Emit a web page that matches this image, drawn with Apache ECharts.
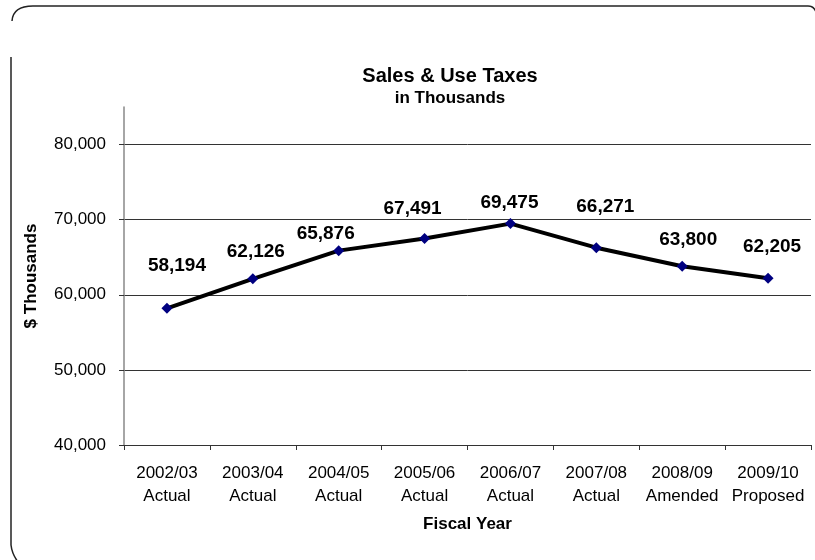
<!DOCTYPE html>
<html>
<head>
<meta charset="utf-8">
<script src="https://cdn.jsdelivr.net/npm/echarts@6/dist/echarts.min.js"></script>
<style>
html,body{margin:0;padding:0;background:#fff;}
#chart{width:815px;height:560px;}
</style>
</head>
<body>
<div id="chart"></div>
<script>
const categories = ['2002/03\nActual','2003/04\nActual','2004/05\nActual','2005/06\nActual','2006/07\nActual','2007/08\nActual','2008/09\nAmended','2009/10\nProposed'];
const salesTax = [58194, 62126, 65876, 67491, 69475, 66271, 63800, 62205];
const yTicks = [40000, 50000, 60000, 70000, 80000];
// label offsets (style only): [dx, dy] from the point
const labelOffsets = [[10,-43],[3,-27],[-13,-17],[-12,-30],[-1,-21],[9,-41],[6,-26],[4,-31]];

const FONT = '"Liberation Sans", Arial, sans-serif';
const chart = echarts.init(document.getElementById('chart'), null, {renderer:'canvas'});
const borderStyle = {fill: null, stroke: '#222', lineWidth: 1.5};

chart.setOption({
  animation: false,
  backgroundColor: '#fff',
  title: {
    text: 'Sales & Use Taxes',
    subtext: 'in Thousands',
    left: 445, top: 61, textAlign: 'center',
    itemGap: 4,
    textStyle: {fontFamily: FONT, fontSize: 20, fontWeight: 'bold', color: '#000'},
    subtextStyle: {fontFamily: FONT, fontSize: 17, fontWeight: 'bold', color: '#000'}
  },
  graphic: [
    {type:'bezierCurve', shape:{x1:12, y1:21, x2:33, y2:6, cpx1:13, cpy1:6}, style:borderStyle, silent:true},
    {type:'line', shape:{x1:33, y1:6, x2:808, y2:6}, style:borderStyle, silent:true},
    {type:'bezierCurve', shape:{x1:808, y1:6, x2:816, y2:12, cpx1:814, cpy1:6}, style:borderStyle, silent:true},
    {type:'line', shape:{x1:11, y1:57, x2:11, y2:545}, style:borderStyle, silent:true},
    {type:'bezierCurve', shape:{x1:11, y1:545, x2:18, y2:562, cpx1:12, cpy1:554}, style:borderStyle, silent:true}
  ],
  grid: {left: 124, right: 4, top: 107, bottom: 115, containLabel: false},
  xAxis: {
    type: 'category',
    data: categories,
    boundaryGap: true,
    name: 'Fiscal Year',
    nameLocation: 'middle',
    nameGap: 71,
    nameTextStyle: {fontFamily: FONT, fontSize: 17, fontWeight: 'bold', color: '#000'},
    axisLine: {lineStyle: {color: '#333', width: 1}},
    axisTick: {show: true, length: 5, lineStyle: {color: '#333'}},
    axisLabel: {fontFamily: FONT, fontSize: 17, color: '#000', lineHeight: 23, margin: 17, interval: 0}
  },
  yAxis: {
    type: 'value',
    min: 40000, max: 85000, interval: 10000,
    name: '$ Thousands',
    nameLocation: 'middle',
    nameGap: 84,
    nameRotate: 90,
    nameTextStyle: {fontFamily: FONT, fontSize: 17, fontWeight: 'bold', color: '#000'},
    axisLine: {show: true, lineStyle: {color: '#888', width: 1.5}},
    axisTick: {show: true, length: 5, lineStyle: {color: '#333'}, customValues: yTicks},
    axisLabel: {
      fontFamily: FONT, fontSize: 17, color: '#000', margin: 18,
      customValues: yTicks,
      formatter: v => v.toLocaleString('en-US')
    },
    splitLine: {show: true, lineStyle: {color: ['#333','#333','#333','#333','#333','rgba(0,0,0,0)'], width: 1}}
  },
  series: [{
    type: 'line',
    data: salesTax.map((v, i) => ({
      value: v,
      label: {offset: labelOffsets[i]}
    })),
    symbol: 'diamond',
    symbolSize: 11,
    itemStyle: {color: '#000080', borderWidth: 0},
    lineStyle: {color: '#000', width: 4},
    z: 3,
    label: {
      show: true,
      position: 'inside',
      align: 'center',
      verticalAlign: 'middle',
      fontFamily: FONT, fontSize: 19, fontWeight: 'bold', color: '#000',
      formatter: p => p.value.toLocaleString('en-US')
    }
  }]
});
</script>
</body>
</html>
